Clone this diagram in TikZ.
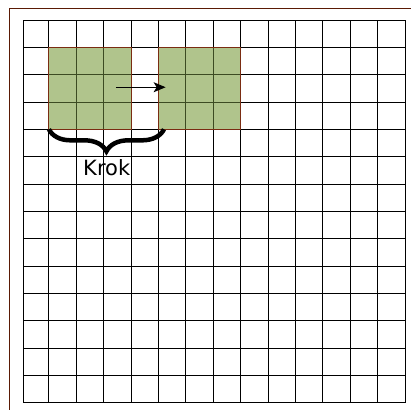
\documentclass[tikz,border=0pt]{standalone}
\usepackage{fontspec}
\setmainfont{DejaVu Sans}
\usetikzlibrary{arrows.meta,decorations.pathreplacing}
\definecolor{framebrown}{HTML}{5A1A05}
\definecolor{sqgreen}{HTML}{B0C48C}
\definecolor{sqline}{HTML}{3C4B22}
\definecolor{sqborder}{HTML}{7A2C12}
\tikzset{
  gridline/.style={black,line width=0.9pt},
  frameline/.style={framebrown,line width=1pt},
  sqfill/.style={fill=sqgreen},
  sqinner/.style={sqline,line width=0.9pt},
  sqedge/.style={draw=sqborder,line width=0.9pt},
  bracestyle/.style={decorate,decoration={brace,amplitude=22pt,mirror},line width=4.5pt,black},
  label/.style={font=\fontsize{21}{24}\selectfont,inner sep=0pt,anchor=base},
  moveline/.style={black,line width=1pt,-{Stealth[length=12pt,width=10pt,inset=3pt]}}
}
\begin{document}
\begin{tikzpicture}[x=1pt,y=-1pt]
\useasboundingbox (0,0) rectangle (411,410);
\fill[white] (0,0) rectangle (411,410);
% outer frame (top and left visible)
\coordinate (f0) at (9.3,8.3);
\coordinate (f1) at (411,8.3);
\coordinate (f2) at (9.3,410);
\draw[frameline] (f1) -- (f0) -- (f2);
\begin{scope}[shift={(21.5,20)},x=27.4pt,y=-27.33pt]
  % green squares
  \fill[sqfill] (1,1) rectangle (4,4);
  \fill[sqfill] (5,1) rectangle (8,4);
  % grid
  \foreach \i in {1,...,13} {
    \draw[gridline] (\i,0) -- (\i,14);
    \draw[gridline] (0.055,\i) -- (14,\i);
  }
  \draw[gridline] (0.055,0) rectangle (14,14);
  % inner lines of squares
  \foreach \i in {2,3} {
    \draw[sqinner] (\i,1) -- (\i,4);
    \draw[sqinner] (1,\i) -- (4,\i);
    \draw[sqinner] (\i+4,1) -- (\i+4,4);
    \draw[sqinner] (5,\i) -- (8,\i);
  }
  \draw[sqedge] (1,1) rectangle (4,4);
  \draw[sqedge] (5,1) rectangle (8,4);
  % arrow
  \coordinate (a1) at (3.44,2.46);
  \coordinate (a2) at (5.26,2.46);
  \draw[moveline] (a1) -- (a2);
  % brace
  \coordinate (b1) at (1.0,4.0);
  \coordinate (b2) at (5.2,4.0);
  \draw[bracestyle] (b1) -- (b2);
\end{scope}
\node[label] (krok) at (106.7,175) {Krok};
\end{tikzpicture}
\end{document}
